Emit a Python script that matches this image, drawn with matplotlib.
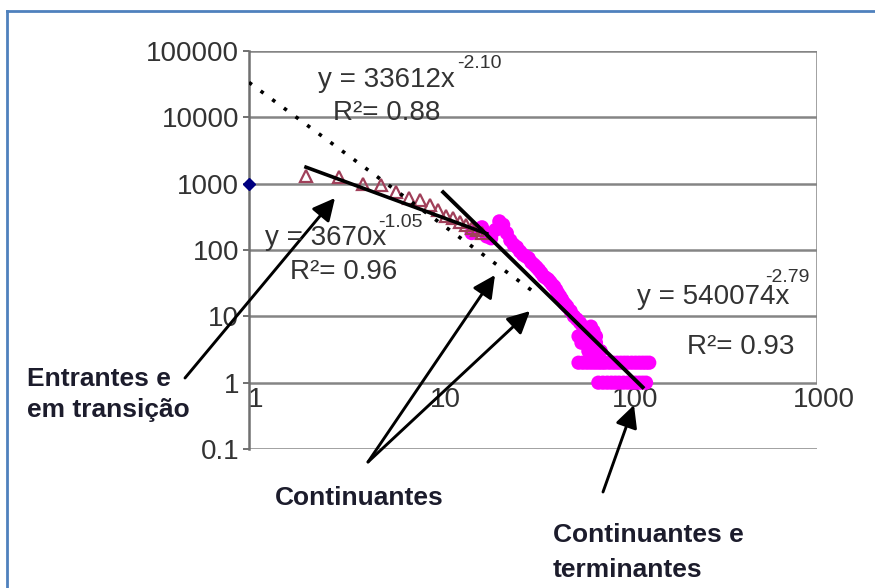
import matplotlib
matplotlib.use('Agg')
import matplotlib.pyplot as plt
from matplotlib.lines import Line2D
from matplotlib.patches import FancyArrowPatch
from matplotlib.ticker import NullLocator, FixedLocator
from matplotlib.transforms import ScaledTranslation

plt.rcParams['font.family'] = ['Liberation Sans', 'DejaVu Sans']

# ---------------- data ----------------
single_x = [1]
single_y = [1000]

entrantes_x = [2, 3, 4, 5, 6, 7, 8, 9, 10, 11, 12, 13, 14, 15, 16, 17]
entrantes_y = [1300, 1250, 1000, 950, 760, 600, 560, 470, 400, 330, 300, 260, 240, 215, 200, 180]

cont_x = [15, 16, 17, 18, 19, 20, 21, 22, 23, 24, 25, 26, 27, 28, 29, 30, 31, 32, 33, 34,
          35, 36, 37, 38, 39, 40, 41, 42, 43, 44, 45, 46, 47, 48, 50, 52, 54, 56, 58, 60,
          62, 64, 66, 68, 55, 57, 60, 62, 65, 68, 70, 72,
          55, 58, 61, 64, 67, 70, 73, 76, 80, 84, 88, 92, 96, 100, 105, 110, 115, 120, 125, 130,
          70, 74, 78, 82, 86, 90, 95, 100, 105, 110, 115, 120, 125]
cont_y = [180, 200, 220, 160, 150, 200, 270, 240, 180, 140, 120, 110, 95, 85, 80, 75, 65, 60, 55, 50,
          45, 40, 38, 36, 33, 30, 28, 25, 22, 20, 18, 16, 15, 14, 12, 10, 9, 8, 7, 6,
          6, 7, 6, 5, 5, 4, 4, 3, 3, 4, 3, 3,
          2, 2, 2, 2, 2, 2, 2, 2, 2, 2, 2, 2, 2, 2, 2, 2, 2, 2, 2, 2,
          1, 1, 1, 1, 1, 1, 1, 1, 1, 1, 1, 1, 1]

# trend lines: coefficient, exponent, x-range
fit_all = [33612, -2.10, 1, 33]
fit_low = [3670, -1.05, 2, 18]
fit_high = [540074, -2.79, 10.6, 120]

x_ticks = [1, 10, 100, 1000]
x_labels = ['1', '10', '100', '1000']
y_ticks = [0.1, 1, 10, 100, 1000, 10000, 100000]
y_labels = ['0.1', '1', '10', '100', '1000', '10000', '100000']

# ---------------- figure ----------------
W, H = 875, 588
fig = plt.figure(figsize=(W / 100, H / 100), dpi=100)
fig.patch.set_facecolor('white')

def fx(px):
    return px / W

def fy(py):
    return 1 - py / H

left, right, top, bottom = 249, 817, 51, 449
ax = fig.add_axes([fx(left), fy(bottom), (right - left) / W, (bottom - top) / H])
ax.set_xscale('log')
ax.set_yscale('log')
ax.set_xlim(1, 1000)
ax.set_ylim(0.1, 100000)
ax.patch.set_alpha(0)

grid_c = '#858585'
for v in y_ticks:
    ax.axhline(v, color=grid_c, lw=1.8, zorder=1)
ax.vlines(1000, 1, 100000, color=grid_c, lw=1.8, zorder=1)

for s in ['top', 'right']:
    ax.spines[s].set_visible(False)
ax.spines['left'].set_color('#707070')
ax.spines['left'].set_linewidth(1.8)
ax.spines['bottom'].set_position(('data', 1))
ax.spines['bottom'].set_visible(False)

ax.xaxis.set_major_locator(FixedLocator(x_ticks))
ax.xaxis.set_minor_locator(NullLocator())
ax.set_xticklabels(x_labels)
ax.yaxis.set_major_locator(FixedLocator(y_ticks))
ax.yaxis.set_minor_locator(NullLocator())
ax.set_yticklabels(y_labels)
ax.tick_params(axis='x', length=0, pad=3, labelsize=20, labelcolor='#333333')
ax.tick_params(axis='y', length=4, width=1.4, color='#707070', pad=3, labelsize=20,
               labelcolor='#333333')
shift = ScaledTranslation(7 / 100, 0, fig.dpi_scale_trans)
for lab in ax.get_xticklabels():
    lab.set_transform(lab.get_transform() + shift)

# data
ax.scatter(cont_x, cont_y, s=105, c='#FF00FF', edgecolors='none', zorder=3)
ax.plot(entrantes_x, entrantes_y, linestyle='none', marker='^', ms=8, mfc='none',
        mec='#A0405A', mew=1.6, zorder=3)
ax.plot(single_x, single_y, linestyle='none', marker='D', ms=6.5, color='#000080',
        zorder=5, clip_on=False)

def trend(params, **kw):
    a, b, x0, x1 = params
    xs = [x0, x1]
    ys = [a * x ** b for x in xs]
    ax.plot(xs, ys, **kw)

trend(fit_all, color='black', lw=2.6, linestyle=(0, (1, 3.0)), zorder=4)
trend(fit_low, color='black', lw=2.6, zorder=4)
trend(fit_high, color='black', lw=2.8, zorder=4)

# equation labels
tc = '#333333'
fs_eq = 20
fs_sup = 14
fig.text(fx(318), fy(80), 'y = 33612x', fontsize=fs_eq, color=tc, va='center', ha='left')
fig.text(fx(457), fy(64), '-2.10', fontsize=fs_sup, color=tc, va='center', ha='left')
fig.text(fx(333), fy(113), 'R²= 0.88', fontsize=fs_eq, color=tc, va='center', ha='left')

fig.text(fx(265), fy(238), 'y = 3670x', fontsize=fs_eq, color=tc, va='center', ha='left')
fig.text(fx(378), fy(223), '-1.05', fontsize=fs_sup, color=tc, va='center', ha='left')
fig.text(fx(290), fy(272), 'R²= 0.96', fontsize=fs_eq, color=tc, va='center', ha='left')

fig.text(fx(637), fy(297), 'y = 540074x', fontsize=fs_eq, color=tc, va='center', ha='left')
fig.text(fx(765), fy(277), '-2.79', fontsize=fs_sup, color=tc, va='center', ha='left')
fig.text(fx(687), fy(347), 'R²= 0.93', fontsize=fs_eq, color=tc, va='center', ha='left')

# bold annotations
bfam = ['Liberation Sans Narrow', 'Liberation Sans', 'DejaVu Sans']
bc = '#1c1c2c'
fs_b = 19
fig.text(fx(27), fy(386), 'Entrantes e', fontsize=fs_b, fontweight='bold', family=bfam,
         color=bc, va='baseline', ha='left')
fig.text(fx(27), fy(417), 'em transição', fontsize=fs_b, fontweight='bold', family=bfam,
         color=bc, va='baseline', ha='left')
fig.text(fx(275), fy(505), 'Continuantes', fontsize=fs_b, fontweight='bold', family=bfam,
         color=bc, va='baseline', ha='left')
fig.text(fx(553), fy(542), 'Continuantes e', fontsize=fs_b, fontweight='bold', family=bfam,
         color=bc, va='baseline', ha='left')
fig.text(fx(553), fy(577), 'terminantes', fontsize=fs_b, fontweight='bold', family=bfam,
         color=bc, va='baseline', ha='left')

# arrows
def arrow(p0, p1):
    a = FancyArrowPatch((fx(p0[0]), fy(p0[1])), (fx(p1[0]), fy(p1[1])),
                        transform=fig.transFigure, arrowstyle='-|>,head_length=9,head_width=4.5',
                        mutation_scale=1.5, color='black', lw=2.1, shrinkA=0, shrinkB=0)
    fig.add_artist(a)

arrow((185, 378), (335, 198))
arrow((368, 462), (495, 275))
arrow((368, 462), (530, 311))
arrow((603, 492), (634, 405))

# blue frame (top and left edges visible)
bl = '#4F81BD'
fig.add_artist(Line2D([fx(7), fx(7)], [0, fy(11)], color=bl, lw=2, transform=fig.transFigure))
fig.add_artist(Line2D([fx(7), 1], [fy(11), fy(11)], color=bl, lw=2, transform=fig.transFigure))

fig.savefig('out.png', dpi=100)
